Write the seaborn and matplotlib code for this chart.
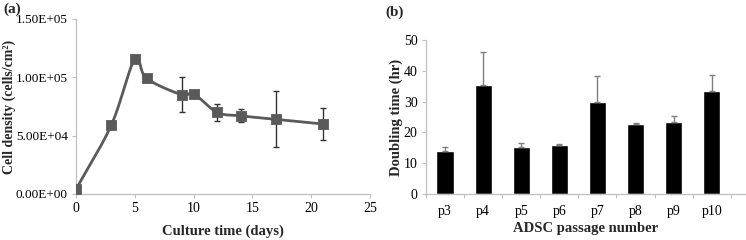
import numpy as np
import pandas as pd
import matplotlib
matplotlib.use("Agg")
import matplotlib.pyplot as plt
import seaborn as sns

# ---- data: panel (a) ----
days = [0, 3, 5, 6, 9, 10, 12, 14, 17, 21]
density = [4000, 59000, 115500, 99000, 85000, 86000, 70000, 67000, 64000, 60000]
density_err = [0, 0, 2000, 0, 15000, 1500, 7500, 5500, 24000, 14000]
a_yticks = [0, 50000, 100000, 150000]
a_yticklabels = ["0.00E+00", "5.00E+04", "1.00E+05", "1.50E+05"]
a_xticks = [0, 5, 10, 15, 20, 25]

# ---- data: panel (b) ----
passages = ["p3", "p4", "p5", "p6", "p7", "p8", "p9", "p10"]
doubling = [14.0, 35.5, 15.2, 15.8, 30.0, 22.8, 23.5, 33.5]
doubling_err = [1.2, 10.5, 1.3, 0.5, 8.2, 0.4, 1.8, 5.2]
b_yticks = [0, 10, 20, 30, 40, 50]

sns.set_theme(style="white")
plt.rcParams['font.family'] = ['Liberation Serif', 'DejaVu Serif']

fig = plt.figure(figsize=(7.46, 2.40), dpi=100)
W, H = 746, 240
axA = fig.add_axes([76 / W, 1 - 194 / H, (370 - 76) / W, (194 - 19) / H])
axB = fig.add_axes([426 / W, 1 - 194 / H, (746 - 426) / W, (194 - 40) / H])

gray_spine = "#bfbfbf"
marker_col = "#5a5a5a"

# ---- panel (a) ----
def catmull_rom(xs, ys, n=20):
    xs = np.asarray(xs, float); ys = np.asarray(ys, float)
    px = np.concatenate([[2 * xs[0] - xs[1]], xs, [2 * xs[-1] - xs[-2]]])
    py = np.concatenate([[2 * ys[0] - ys[1]], ys, [2 * ys[-1] - ys[-2]]])
    ox, oy = [], []
    for i in range(1, len(px) - 2):
        t = np.linspace(0, 1, n, endpoint=False)
        for p, o in ((px, ox), (py, oy)):
            p0, p1, p2, p3 = p[i - 1], p[i], p[i + 1], p[i + 2]
            m1 = 0.5 * (p2 - p0)
            m2 = 0.5 * (p3 - p1)
            h00 = 2 * t**3 - 3 * t**2 + 1
            h10 = t**3 - 2 * t**2 + t
            h01 = -2 * t**3 + 3 * t**2
            h11 = t**3 - t**2
            o.extend(h00 * p1 + h10 * m1 + h01 * p2 + h11 * m2)
    ox.append(xs[-1]); oy.append(ys[-1])
    return np.array(ox), np.array(oy)

sx, sy = catmull_rom(days, density)
smooth = pd.DataFrame({"x": sx, "y": sy})
sns.lineplot(data=smooth, x="x", y="y", ax=axA, color=marker_col, lw=2, sort=False)
dfA = pd.DataFrame({"day": days, "density": density, "err": density_err})
axA.errorbar(dfA["day"], dfA["density"], yerr=dfA["err"], fmt="none",
             ecolor="#333333", elinewidth=1, capsize=2.5, capthick=1, zorder=3)
sns.scatterplot(data=dfA, x="day", y="density", ax=axA, marker="s", s=55,
                color=marker_col, edgecolor=marker_col, zorder=4)

axA.set_xlim(0, 25)
axA.set_ylim(0, 150000)
axA.set_xticks(a_xticks)
axA.set_xticklabels([str(v) for v in a_xticks])
axA.set_yticks(a_yticks)
axA.set_yticklabels(a_yticklabels)
axA.set_xlabel("Culture time (days)", fontsize=10.5, fontweight="bold")
axA.set_ylabel("Cell density (cells/cm²)", fontsize=10, fontweight="bold")
axA.xaxis.set_label_coords(0.5, -31 / 175)
axA.yaxis.set_label_coords(-60 / 294, 0.5)

# ---- panel (b) ----
dfB = pd.DataFrame({"passage": passages, "doubling": doubling, "err": doubling_err})
sns.barplot(data=dfB, x="passage", y="doubling", ax=axB, color="black",
            width=0.45, errorbar=None, saturation=1)
axB.errorbar(np.arange(len(passages)), dfB["doubling"],
             yerr=[np.zeros(len(passages)), dfB["err"]], fmt="none",
             ecolor="#7f7f7f", elinewidth=1, capsize=2.5, capthick=1, zorder=3)
axB.set_xlim(-0.5, 7.9)
axB.set_ylim(0, 50)
axB.set_yticks(b_yticks)
axB.set_xlabel("ADSC passage number", fontsize=10.5, fontweight="bold")
axB.set_ylabel("Doubling time (hr)", fontsize=10.5, fontweight="bold")
axB.xaxis.set_label_coords(0.5, -28 / 154)
axB.yaxis.set_label_coords(-23 / 320, 0.5)
axB.set_xticks(np.arange(-0.5, 8, 1), minor=True)
axB.tick_params(axis="x", which="major", length=0)
axB.tick_params(axis="x", which="minor", length=3, color=gray_spine, width=0.8)

for ax in (axA, axB):
    for s in ("top", "right"):
        ax.spines[s].set_visible(False)
    for s in ("left", "bottom"):
        ax.spines[s].set_color(gray_spine)
        ax.spines[s].set_linewidth(0.9)
    ax.tick_params(axis="both", which="major", labelsize=10, colors="black", pad=3)
    ax.tick_params(axis="y", which="major", length=3, color=gray_spine, width=0.8, left=True)
    ax.grid(False)
axA.tick_params(axis="x", which="major", length=3, color=gray_spine, width=0.8, bottom=True)
axA.tick_params(axis="y", which="major", labelsize=9.5)
axB.tick_params(axis="x", which="major", pad=8)
axB.tick_params(axis="x", which="minor", bottom=True)

fig.text(3 / W, 1 - 9 / H, "(a)", fontsize=11, fontweight="bold", va="center", ha="left")
fig.text(385 / W, 1 - 12 / H, "(b)", fontsize=11, fontweight="bold", va="center", ha="left")

fig.savefig("out.png", dpi=100)
